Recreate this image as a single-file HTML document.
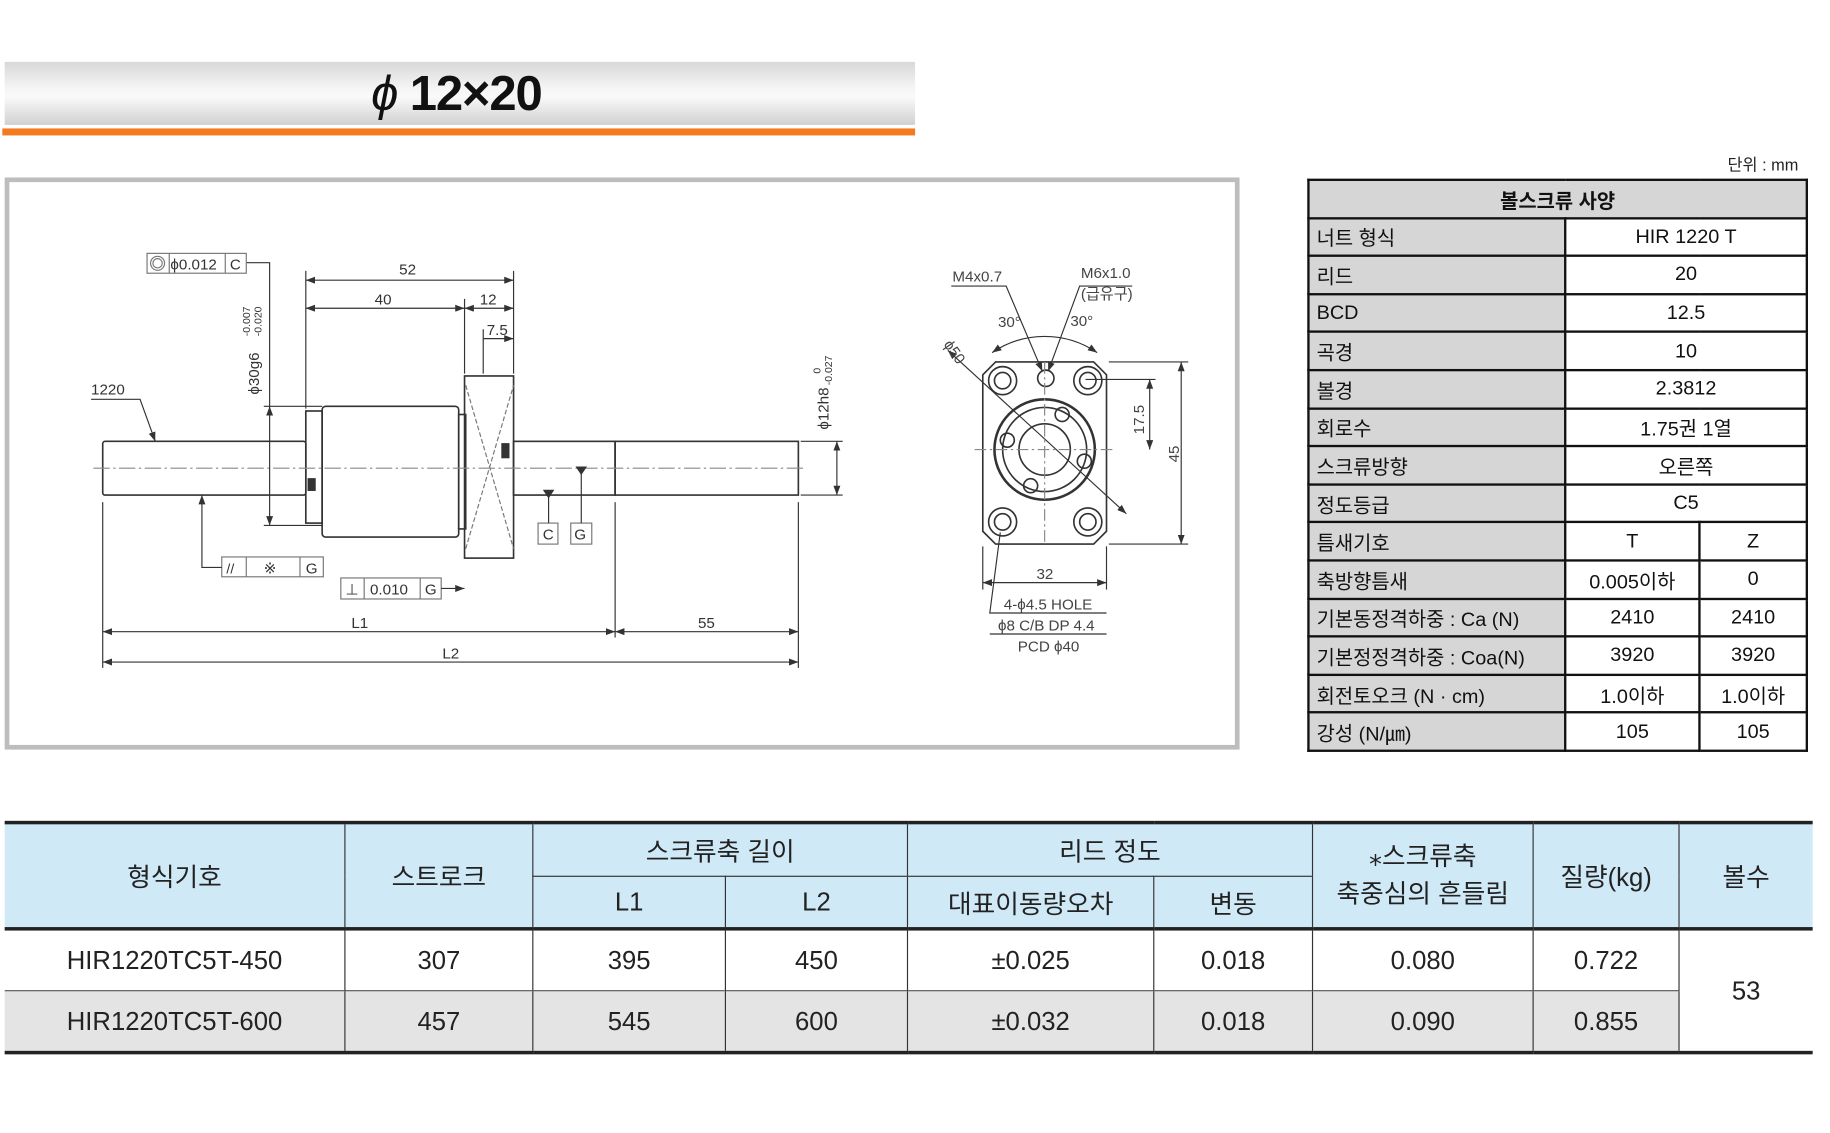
<!DOCTYPE html>
<html><head><meta charset="utf-8"><style>
html,body{margin:0;padding:0;background:#fff;width:1830px;height:1133px;overflow:hidden}
#w{position:absolute;left:0;top:0;width:1560px;height:966px;transform:scale(1.1672,1.1676);transform-origin:0 0;font-family:"Liberation Sans","Noto Sans CJK KR",sans-serif}
.abs{position:absolute}
table{border-collapse:collapse;position:absolute}
#spec{left:1120px;top:153px;width:429px;font-size:17px;color:#111}
#spec tr{height:32.6px}
#spec td{border:2px solid #111;padding:0 6px;white-space:nowrap}
#spec td.l{background:#d6d6d6;width:206px}
#spec td.c{text-align:center;background:#fff}
#spec td.h{background:#d6d6d6;text-align:center;font-weight:bold}
#main{left:4px;top:703px;width:1549px;font-size:22px;color:#222}
#main td{border-left:1.5px solid #333;border-right:1.5px solid #333;text-align:center;padding:0}
#main tr.h td{background:#cfe9f7;}
#main tr.h1 td{height:44px;border-top:3px solid #222}
#main tr.h2 td{height:43px;}
#main .bt{border-top:1.5px solid #333}
#main tr.r1 td{height:51px;border-top:3px solid #222;background:#fff}
#main tr.r2 td{height:51px;background:#e4e4e4;border-top:1.5px solid #555;border-bottom:3px solid #222}
#main td:first-child{border-left:none}
#main td.last{border-right:none}
</style></head><body><div id="w">
<div class="abs" style="left:4px;top:53px;width:780px;height:54px;background:linear-gradient(#d8d8d8,#f4f4f4 40%,#fafafa 55%,#d0d0d0)"></div>
<div class="abs" style="left:2px;top:110px;width:782px;height:6px;background:#f47a20"></div>
<div class="abs" style="left:318px;top:56px;font-size:42px;font-weight:bold;color:#111;letter-spacing:-1px"><span style="font-style:italic;font-weight:normal">ϕ</span> 12×20</div>
<div class="abs" style="left:1480px;top:131px;font-size:14px;color:#222">단위 : mm</div>
<div class="abs" style="left:4px;top:152px;width:1050px;height:482px;border:4px solid #bdbdbd;background:#fff"></div>
<svg class="abs" style="left:0;top:0" width="1560" height="966" font-family="Liberation Sans, sans-serif" fill="none" stroke="#333" stroke-width="1">
<defs><marker id="a" markerWidth="8" markerHeight="6" refX="8" refY="3" orient="auto-start-reverse"><path d="M0,0L8,3L0,6z" fill="#333" stroke="none"/></marker></defs>
<g stroke-width="1.4">
<rect x="88" y="378" width="174" height="46" rx="2"/>
<rect x="440" y="378" width="87" height="46"/>
<rect x="527" y="378" width="157" height="46"/>
<rect x="262" y="352" width="14" height="96"/>
<rect x="276" y="348" width="117" height="112" rx="3"/>
<rect x="393" y="355" width="6" height="98"/>
<rect x="398" y="322" width="42" height="156"/>
</g>
<path d="M399,330L440,470M399,470L440,330" stroke="#777" stroke-dasharray="4 2"/>
<rect x="264" y="410" width="6" height="10" fill="#333"/><rect x="430" y="380" width="6" height="12" fill="#333"/>
<line x1="80" y1="401" x2="690" y2="401" stroke="#888" stroke-dasharray="14 3 2 3"/>
<path d="M262,232V350M440,232V320M398,256V320M414,282V320"/>
<line x1="262" y1="240" x2="440" y2="240" marker-start="url(#a)" marker-end="url(#a)"/>
<line x1="262" y1="264" x2="398" y2="264" marker-start="url(#a)" marker-end="url(#a)"/>
<line x1="398" y1="264" x2="440" y2="264" marker-start="url(#a)" marker-end="url(#a)"/>
<line x1="414" y1="290" x2="440" y2="290" marker-end="url(#a)"/>
<path d="M226,348H276M226,450H276"/>
<line x1="231" y1="348" x2="231" y2="450" marker-start="url(#a)" marker-end="url(#a)"/>
<path d="M211,225H231V348"/>
<rect x="126" y="217" width="85" height="17" stroke="#777"/><path d="M145,217V234M193,217V234" stroke="#777"/>
<circle cx="135" cy="225.5" r="6" stroke="#777"/><circle cx="135" cy="225.5" r="4" stroke="#777"/>
<path d="M78,342H120L133,378" marker-end="url(#a)"/>
<path d="M686,378H722M686,424H722"/>
<line x1="717" y1="378" x2="717" y2="424" marker-start="url(#a)" marker-end="url(#a)"/>
<rect x="461" y="448" width="17" height="18" stroke="#777"/><rect x="489" y="448" width="18" height="18" stroke="#777"/>
<path d="M470,448V424M498,448V404"/><path d="M466,420H474L470,426z M494,400H502L498,406z" fill="#333"/>
<rect x="190" y="477" width="87" height="17" stroke="#777"/><path d="M211,477V494M257,477V494" stroke="#777"/>
<path d="M190,486H173V424" marker-end="url(#a)"/>
<rect x="292" y="495" width="86" height="18" stroke="#777"/><path d="M312,495V513M360,495V513" stroke="#777"/>
<line x1="378" y1="504" x2="398" y2="504" marker-end="url(#a)"/>
<path d="M88,430V572M684,430V572M527,430V546"/>
<line x1="88" y1="541" x2="527" y2="541" marker-start="url(#a)" marker-end="url(#a)"/>
<line x1="527" y1="541" x2="684" y2="541" marker-start="url(#a)" marker-end="url(#a)"/>
<line x1="88" y1="567" x2="684" y2="567" marker-start="url(#a)" marker-end="url(#a)"/>
<g fill="#333" stroke="none" font-size="13">
<text x="342" y="235">52</text><text x="321" y="261">40</text><text x="411" y="261">12</text><text x="417" y="287">7.5</text>
<text x="78" y="338">1220</text><text x="146" y="231">ϕ0.012</text><text x="197" y="231">C</text>
<text x="465" y="462">C</text><text x="492" y="462">G</text>
<text x="194" y="491" font-size="12">//</text><text x="226" y="491">※</text><text x="262" y="491">G</text>
<text x="296" y="509">⊥</text><text x="317" y="509">0.010</text><text x="364" y="509">G</text>
<text x="301" y="538">L1</text><text x="598" y="538">55</text><text x="379" y="564">L2</text>
<text transform="translate(222,338) rotate(-90)">ϕ30g6</text><text transform="translate(214,288) rotate(-90)" font-size="9">-0.007</text><text transform="translate(224,288) rotate(-90)" font-size="9">-0.020</text>
<text transform="translate(710,368) rotate(-90)">ϕ12h8</text><text transform="translate(703,320) rotate(-90)" font-size="9">0</text><text transform="translate(713,330) rotate(-90)" font-size="9">-0.027</text>
</g>
<g stroke-width="1.4">
<path d="M853,310H937L948,321V455L937,466H853L842,455V321z"/>
<circle cx="895" cy="385" r="43" stroke-width="2.2"/><circle cx="895" cy="385" r="36"/><circle cx="895" cy="385" r="22"/>
<circle cx="859" cy="326" r="12"/><circle cx="859" cy="326" r="7"/><circle cx="932" cy="326" r="12"/><circle cx="932" cy="326" r="7"/>
<circle cx="859" cy="447" r="12"/><circle cx="859" cy="447" r="7"/><circle cx="932" cy="447" r="12"/><circle cx="932" cy="447" r="7"/>
<circle cx="896" cy="324" r="7"/>
<circle cx="910" cy="355" r="6"/><circle cx="863" cy="377" r="6"/><circle cx="929" cy="395" r="6"/><circle cx="883" cy="416" r="6"/>
</g>
<line x1="835" y1="385" x2="955" y2="385" stroke="#888" stroke-dasharray="10 3 2 3"/>
<line x1="895" y1="310" x2="895" y2="466" stroke="#888" stroke-dasharray="10 3 2 3"/>
<path d="M950,310H1018M950,466H1018M930,325H990"/>
<line x1="1012" y1="310" x2="1012" y2="466" marker-start="url(#a)" marker-end="url(#a)"/>
<line x1="985" y1="325" x2="985" y2="385" marker-start="url(#a)" marker-end="url(#a)"/>
<path d="M842,468V505M948,468V505"/>
<line x1="842" y1="499" x2="948" y2="499" marker-start="url(#a)" marker-end="url(#a)"/>
<path d="M812,300L965,440" marker-start="url(#a)" marker-end="url(#a)"/>
<path d="M850,302A80,80 0 0 1 940,302" marker-start="url(#a)" marker-end="url(#a)"/>
<path d="M815,245H862L893,318" marker-end="url(#a)"/>
<path d="M970,245H925L898,318" marker-end="url(#a)"/>
<path d="M857,456L848,525H948M848,543H948"/>
<g fill="#444" stroke="none" font-size="13">
<text x="816" y="241">M4x0.7</text><text x="926" y="238">M6x1.0</text><text x="926" y="256">(급유구)</text>
<text x="855" y="280">30°</text><text x="917" y="279">30°</text>
<text transform="translate(808,295) rotate(55)">ϕ50</text>
<text transform="translate(980,372) rotate(-90)">17.5</text><text transform="translate(1010,396) rotate(-90)">45</text>
<text x="888" y="496">32</text>
<text x="860" y="522">4-ϕ4.5 HOLE</text><text x="855" y="540">ϕ8 C/B DP 4.4</text><text x="872" y="558">PCD ϕ40</text>
</g>
</svg>
<table id="spec">
<tr><td class="h" colspan="3">볼스크류 사양</td></tr>
<tr><td class="l">너트 형식</td><td class="c" colspan="2">HIR 1220 T</td></tr>
<tr><td class="l">리드</td><td class="c" colspan="2">20</td></tr>
<tr><td class="l">BCD</td><td class="c" colspan="2">12.5</td></tr>
<tr><td class="l">곡경</td><td class="c" colspan="2">10</td></tr>
<tr><td class="l">볼경</td><td class="c" colspan="2">2.3812</td></tr>
<tr><td class="l">회로수</td><td class="c" colspan="2">1.75권 1열</td></tr>
<tr><td class="l">스크류방향</td><td class="c" colspan="2">오른쪽</td></tr>
<tr><td class="l">정도등급</td><td class="c" colspan="2">C5</td></tr>
<tr><td class="l">틈새기호</td><td class="c" style="width:101px">T</td><td class="c">Z</td></tr>
<tr><td class="l">축방향틈새</td><td class="c">0.005이하</td><td class="c">0</td></tr>
<tr><td class="l">기본동정격하중 : Ca (N)</td><td class="c">2410</td><td class="c">2410</td></tr>
<tr><td class="l">기본정정격하중 : Coa(N)</td><td class="c">3920</td><td class="c">3920</td></tr>
<tr><td class="l">회전토오크 (N · cm)</td><td class="c">1.0이하</td><td class="c">1.0이하</td></tr>
<tr><td class="l">강성 (N/㎛)</td><td class="c">105</td><td class="c">105</td></tr>
</table>
<table id="main">
<tr class="h h1"><td rowspan="2" style="width:291px">형식기호</td><td rowspan="2" style="width:160px">스트로크</td><td colspan="2">스크류축 길이</td><td colspan="2">리드 정도</td><td rowspan="2" style="width:188px;line-height:32px">⁎스크류축<br>축중심의 흔들림</td><td rowspan="2" style="width:124px">질량(kg)</td><td rowspan="2" class="last">볼수</td></tr>
<tr class="h h2"><td class="bt" style="width:164px">L1</td><td class="bt" style="width:155px">L2</td><td class="bt" style="width:210px">대표이동량오차</td><td class="bt" style="width:135px">변동</td></tr>
<tr class="r1"><td>HIR1220TC5T-450</td><td>307</td><td>395</td><td>450</td><td>±0.025</td><td>0.018</td><td>0.080</td><td>0.722</td><td rowspan="2" class="last" style="background:#fff;border-bottom:3px solid #222">53</td></tr>
<tr class="r2"><td>HIR1220TC5T-600</td><td>457</td><td>545</td><td>600</td><td>±0.032</td><td>0.018</td><td>0.090</td><td>0.855</td></tr>
</table>
</div></body></html>
